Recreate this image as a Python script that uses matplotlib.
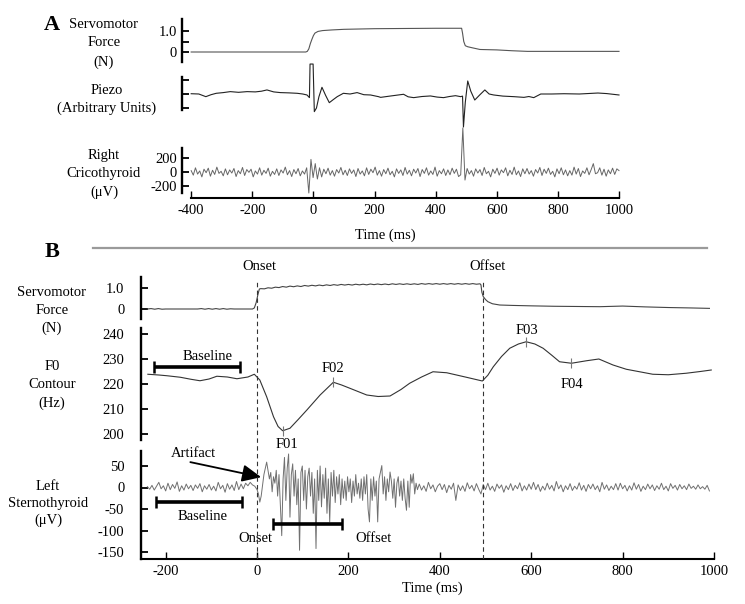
import numpy as np
import matplotlib
matplotlib.use('Agg')
import matplotlib.pyplot as plt
from matplotlib.lines import Line2D

plt.rcParams['font.family'] = ['Liberation Serif', 'DejaVu Serif']
plt.rcParams['font.size'] = 10.5

W, H = 745, 604

# ======================= DATA =======================
A_xticks = [-400, -200, 0, 200, 400, 600, 800, 1000]
B_xticks = [-200, 0, 200, 400, 600, 800, 1000]

# Panel A - servomotor force (N)
A_servo_t = [-400, -25, -20, -15, -10, -5, 0, 5, 15, 30, 60, 100, 200, 300, 400, 485,
             488, 492, 497, 505, 520, 545, 600, 650, 700, 1000]
A_servo_v = [0, 0, 0.03, 0.15, 0.4, 0.6, 0.78, 0.9, 0.98, 1.02, 1.05, 1.08, 1.11, 1.12, 1.13, 1.13,
             0.9, 0.5, 0.3, 0.25, 0.2, 0.12, 0.1, 0.06, 0.03, 0.03]

# Panel A - piezo (arbitrary units)
A_piezo_t = [-400, -375, -352, -335, -318, -295, -272, -245, -217, -190, -170, -152, -130, -108,
             -80, -53, -35, -21, -13, -11, -1, 3, 10, 18, 28, 40, 52, 65, 78, 98, 120, 143, 165,
             187, 213, 220, 250, 295, 310, 328, 355, 383, 405, 426, 445, 465, 482, 488, 491,
             497, 505, 515, 528, 545, 561, 575, 590, 620, 656, 689, 705, 721, 744, 780, 820,
             870, 931, 960, 1000]
A_piezo_v = [0.02, 0.0, -0.19, -0.05, 0.05, 0.1, 0.17, 0.12, 0.17, 0.15, 0.2, 0.29, 0.15, 0.1,
             0.08, 0.05, 0.0, -0.07, -0.26, 2.14, 2.14, -1.26, -1.0, -0.2, 0.48, -0.1, -0.62,
             -0.4, -0.19, 0.05, 0.0, 0.1, -0.05, -0.07, -0.19, -0.24, -0.15, -0.02, -0.2,
             -0.26, -0.18, -0.14, -0.22, -0.26, -0.18, -0.12, -0.19, -0.15, -2.36, -0.6,
             0.93, 0.2, -0.43, -0.05, 0.29, 0.0, -0.07, -0.15, -0.19, -0.24, -0.18, -0.26,
             0.0, 0.0, 0.02, 0.0, 0.07, 0.03, -0.07]

# Panel A - right cricothyroid EMG (uV), samples every 7 ms from -400 ms
A_emg_t0, A_emg_dt = -400, 7
A_emg_v = [20, -45, 60, -30, 15, -70, 40, -10, 55, -60, 25, -35, 70, -20, 10, -55, 45, -40, 30, -15,
           50, -65, 20, -25, 65, -50, 35, -5, 40, -70, 15, -30, 60, -45, 25, -20, 55, -60, 10, -35,
           45, -50, 30, -15, 70, -40, 20, -65, 35, -25, 50, -55, 15, -30, 60, -300, 180, -80, 120, -100,
           60, -70, 40, -25, 55, -45, 20, -60, 35, -15, 65, -40, 25, -50, 45, -20, 30, -65, 50, -30,
           15, -55, 60, -35, 40, -10, 70, -45, 20, -60, 35, -25, 55, -40, 10, -70, 45, -20, 30, -50,
           65, -30, 25, -55, 40, -15, 50, -65, 35, -20, 60, -45, 15, -35, 70, -60, 20, -25, 45, -50,
           30, -40, 55, -20, 40, -65, -40, 630, -115, 50, -30, 20, -60, 45, -15, 35, -50, 65, -25, 10,
           -70, 40, -20, 55, -45, 30, -10, 60, -55, 25, -35, 70, -40, 15, -65, 45, -25, 50, -30, 20,
           -60, 35, -15, 65, -50, 40, -20, 55, -35, 10, -70, 45, -25, 60, -40, 30, -55, 20, -45, 70,
           -30, 50, -65, 15, -20, 60, -40, 35, 120, -25, -10, 60, -45, 40, -60, 30, -25, 55, -35, 45,
           20]

# Panel B - servomotor force (N)
B_servo_pre_t = [-240, -232, -224, -216, -208, -200, -180, -130, -122, -114, -106, -98, -90, -82,
                 -74, -66, -58, -50, -10, -6, -2, 2, 5]
B_servo_pre_v = [0, 0.02, -0.01, 0.02, -0.01, 0, 0, 0, 0.02, -0.01, 0.02, -0.01, 0.02, -0.01,
                 0.02, -0.01, 0.01, 0, 0, 0.05, 0.3, 0.7, 0.95]
B_servo_plat_t0, B_servo_plat_dt = 8, 8
B_servo_plat_v = [0.97, 0.96, 1.01, 0.99, 1.04, 1.02, 1.07, 1.04, 1.09, 1.06, 1.10, 1.07, 1.12, 1.09,
                  1.13, 1.10, 1.14, 1.11, 1.15, 1.12, 1.16, 1.13, 1.17, 1.14, 1.17, 1.14, 1.18, 1.15,
                  1.18, 1.15, 1.19, 1.16, 1.19, 1.16, 1.19, 1.16, 1.20, 1.17, 1.20, 1.17, 1.20, 1.17,
                  1.20, 1.17, 1.21, 1.18, 1.21, 1.18, 1.21, 1.18, 1.21, 1.18, 1.21, 1.18, 1.21, 1.18,
                  1.21, 1.18, 1.21, 1.18, 1.20]
B_servo_post_t = [490, 492, 495, 500, 505, 515, 531, 560, 600, 650, 700, 750, 800, 850, 900, 950, 990]
B_servo_post_v = [1.15, 0.8, 0.59, 0.45, 0.35, 0.25, 0.19, 0.17, 0.15, 0.13, 0.12, 0.11, 0.14,
                  0.1, 0.07, 0.05, 0.03]

# Panel B - F0 contour (Hz)
B_f0_t = [-239, -215, -197, -168, -145, -125, -105, -88, -65, -44, -20, -6, 6, 21, 36, 46, 56, 72,
          90, 109, 138, 167, 185, 203, 240, 265, 291, 315, 334, 360, 385, 415, 458, 493, 505, 517,
          535, 553, 572, 589, 608, 626, 645, 662, 688, 721, 748, 779, 808, 840, 866, 900, 939, 970, 994]
B_f0_v = [223.9, 223.6, 223.3, 222.7, 221.9, 221.3, 222.0, 223.1, 222.8, 222.1, 222.8, 223.9, 221.6,
          214.9, 206.9, 203.0, 201.3, 202.3, 205.8, 209.6, 215.6, 220.7, 219.6, 218.3, 215.6, 215.0,
          215.2, 217.8, 220.3, 222.8, 224.9, 224.5, 222.7, 221.2, 223.5, 226.9, 231.0, 234.3, 236.0,
          236.9, 236.0, 234.3, 231.5, 228.9, 228.3, 229.3, 230.0, 227.6, 225.9, 224.8, 223.9, 223.7,
          224.3, 225.0, 225.6]
B_f0_marks = ['F01', 'F02', 'F03', 'F04']
B_f0_mark_t = [56, 167, 589, 688]
B_f0_mark_v = [201.3, 220.7, 236.9, 228.3]

# Panel B - left sternothyroid EMG (uV)
B_emg_pre_t0, B_emg_pre_dt = -240, 5
B_emg_pre_v = [2, -4, 5, -6, 3, 12, -3, 4, -8, 10, -5, 7, -2, 13, -9, 4, -6, 8, -3, 5,
               -7, 6, -2, 9, -10, 4, -4, 7, -6, 3, -8, 12, -3, 5, -11, 9, -4, 6, -7, 14,
               -5, 8, -3, 10, 4, 12, 6, 3]
B_emg_burst_t0, B_emg_burst_dt = 0, 3
B_emg_burst_v = [-5, -15, -34, -20, 5, 30, 45, 59, 40, 20, 35, -10, 25, 10, 40, -20, 30, -40, -112, 20,
                 70, -30, 45, 78, -69, 30, 55, -20, 40, -40, 20, -146, 35, 50, -30, 40, -50, 25, 45, -20,
                 35, -60, 20, -142, 40, -30, 50, -45, 30, -25, 45, -60, 20, -80, 35, -20, 40, -35, 25, -15,
                 30, -40, 20, -25, 15, -30, 25, -10, 20, -35, 15, -20, 30, -15, 10, -25, 20, -30, 25, -15,
                 30, -50, -80, 20, -30, 25, -20, 15, -80, 20, 35, 51, -15, 25, -30, 20, -10, 36, 15, -25,
                 20, -46, 10, 25, -20, 15, -30, 20, -25, -53, 15, -46, 30, 10, 32, -15, 10, -5]
B_emg_post_t0, B_emg_post_dt = 355, 5
B_emg_post_v = [8, -6, 4, -9, 12, -3, 6, -10, 3, 9, -5, 7, -12, 5, -4, 10, -30, 6, -7, 4,
                -9, 11, -3, 5, -8, 9, -4, -15, 7, -5, 10, -6, 3, -9, 8, -2, 6, -11, 4, -5,
                9, -7, 5, -3, 11, -8, 4, -6, 8, -4, 12, -5, 7, -9, 3, -6, 10, -4, 5, -8,
                14, -3, 6, -10, 4, -5, 9, -7, 3, -4, 11, -6, 5, -9, 7, -3, 8, -5, 4, -10,
                12, -4, 6, -7, 3, -5, 9, -6, 10, -3, 5, -8, 4, -6, 11, -4, 7, -9, 3, -5,
                8, -3, 6, -7, 4, -4, 10, -5, 3, -8, 9, -2, 5, -6, 7, -3, 4, -5, 8, -2,
                3, -4, 6, -3, 2, -4, 5, -8]

B_events = [0, 495]            # onset / offset (ms)
B_f0_baseline = [-225, -37]    # baseline window (ms)
B_f0_baseline_level = 226.8
B_emg_baseline = [-221, -33]
B_emg_baseline_level = -33
B_emg_window = [35, 186]
B_emg_window_level = -86

# ======================= FIGURE =======================
fig = plt.figure(figsize=(W / 100, H / 100), dpi=100)


def add_ax(x0, x1, ytop, ybot):
    return fig.add_axes([x0 / W, 1 - ybot / H, (x1 - x0) / W, (ybot - ytop) / H])


def ylim_px(ax, ytop, ybot, v1, p1, v2, p2):
    s = (v1 - v2) / (p2 - p1)
    ax.set_ylim(v2 - (ybot - p2) * s, v1 + (p1 - ytop) * s)
    return s


def style(ax, xlim, show_x=False, ypad=3.5):
    ax.set_xlim(*xlim)
    ax.patch.set_alpha(0)
    for s in ['top', 'right']:
        ax.spines[s].set_visible(False)
    ax.spines['left'].set_linewidth(1.7)
    ax.spines['bottom'].set_linewidth(1.5)
    ax.tick_params(axis='y', direction='in', length=5, width=1.3, labelsize=10.5, pad=ypad)
    ax.tick_params(axis='x', direction='in', length=5, width=1.0, labelsize=10.5, pad=4)
    if not show_x:
        ax.spines['bottom'].set_visible(False)
        ax.set_xticks([])


def lab(x, y, s, **kw):
    fig.text(x / W, 1 - y / H, s, ha='center', va='center', fontsize=10.5, **kw)


trace = dict(lw=0.8, clip_on=False)

# ---------------- Panel A ----------------
A_xlim = (-430, 1000)
aS = add_ax(182, 619, 19, 62)
style(aS, A_xlim)
ylim_px(aS, 19, 62, 1.0, 31, 0.0, 52)
aS.plot(A_servo_t, A_servo_v, color='#555555', **trace)
aS.set_yticks([0, 0.5, 1.0])
aS.set_yticklabels(['0', '', '1.0'])

aP = add_ax(182, 619, 77, 110)
style(aP, A_xlim)
ylim_px(aP, 77, 110, 1.0, 80, -1.0, 108)
aP.plot(A_piezo_t, A_piezo_v, color='#222222', **trace)
aP.set_yticks([-1, 0, 1])
aP.set_yticklabels([])

aC = add_ax(182, 619, 148, 198)
style(aC, A_xlim, show_x=True)
sC = ylim_px(aC, 148, 198, 200, 158, -200, 186)
A_emg_t = A_emg_t0 + A_emg_dt * np.arange(len(A_emg_v))
aC.plot(A_emg_t, A_emg_v, color='#666666', lw=0.7, clip_on=False)
aC.set_yticks([-200, 0, 200])
aC.set_yticklabels(['-200', '0', '200'])
aC.spines['left'].set_bounds(-200 - (193 - 186) * sC, aC.get_ylim()[1])
aC.spines['bottom'].set_bounds(A_xticks[0], A_xticks[-1])
aC.set_xticks(A_xticks)
aC.set_xticklabels([str(v) for v in A_xticks])

fig.text(52 / W, 1 - 25 / H, 'A', ha='center', va='center', fontsize=16, fontweight='bold')
lab(104, 25, 'Servomotor')
lab(104, 43, 'Force')
lab(104, 62, '(N)')
lab(107, 90, 'Piezo')
lab(107, 108, '(Arbitrary Units)')
lab(104, 155, 'Right')
lab(104, 173, 'Cricothyroid')
lab(104, 192, '(\u03bcV)')
lab(385, 235, 'Time (ms)')

fig.add_artist(Line2D([93 / W, 707 / W], [1 - 248 / H, 1 - 248 / H], transform=fig.transFigure,
                      color='#9a9a9a', lw=1.6))

# ---------------- Panel B ----------------
B_xlim = (-254, 1000)
bS = add_ax(141, 714, 277, 319)
style(bS, B_xlim, ypad=12)
ylim_px(bS, 277, 319, 1.0, 288, 0.0, 309)
B_servo_plat_t = B_servo_plat_t0 + B_servo_plat_dt * np.arange(len(B_servo_plat_v))
bS_t = list(B_servo_pre_t) + list(B_servo_plat_t) + list(B_servo_post_t)
bS_v = list(B_servo_pre_v) + list(B_servo_plat_v) + list(B_servo_post_v)
bS.plot(bS_t, bS_v, color='#444444', **trace)
bS.set_yticks([0, 1.0])
bS.set_yticklabels(['0', '1.0'])
bS.text(6, bS.get_ylim()[1] + 10 * (1.0 / 21), 'Onset', ha='center', va='center', fontsize=10.5)
bS.text(504, bS.get_ylim()[1] + 10 * (1.0 / 21), 'Offset', ha='center', va='center', fontsize=10.5)

bF = add_ax(141, 714, 328, 440)
style(bF, B_xlim, ypad=12)
ylim_px(bF, 328, 440, 240, 334, 200, 434)
bF.plot(B_f0_t, B_f0_v, color='#333333', **trace)
bF.plot(B_f0_mark_t, B_f0_mark_v, ls='none', marker='|', ms=7, mew=0.8, color='#777777')
bF.set_yticks([200, 210, 220, 230, 240])
bF.set_yticklabels(['200', '210', '220', '230', '240'])
bF.plot(B_f0_baseline, [B_f0_baseline_level] * 2, color='black', lw=2.6, marker='|', ms=8, mew=1.8,
        solid_capstyle='butt')
bF.text(np.mean(B_f0_baseline) + 22, 231.0, 'Baseline', ha='center', va='center', fontsize=10.5)
mark_lbl_pos = [(66, 195.6), (166, 226.0), (590, 241.3), (688, 219.6)]
for name, (tx, ty) in zip(B_f0_marks, mark_lbl_pos):
    bF.text(tx, ty, name, ha='center', va='center', fontsize=10.5)

bE = add_ax(141, 714, 451, 559)
style(bE, B_xlim, show_x=True, ypad=12)
ylim_px(bE, 451, 559, 50, 466, -150, 552)
B_emg_t = list(B_emg_pre_t0 + B_emg_pre_dt * np.arange(len(B_emg_pre_v))) + \
          list(B_emg_burst_t0 + B_emg_burst_dt * np.arange(len(B_emg_burst_v))) + \
          list(B_emg_post_t0 + B_emg_post_dt * np.arange(len(B_emg_post_v)))
B_emg_v = list(B_emg_pre_v) + list(B_emg_burst_v) + list(B_emg_post_v)
bE.plot(B_emg_t, B_emg_v, color='#707070', lw=0.7, clip_on=False)
bE.set_yticks([-150, -100, -50, 0, 50])
bE.set_yticklabels(['-150', '-100', '-50', '0', '50'])
bE.set_xticks(B_xticks)
bE.set_xticklabels([str(v) for v in B_xticks])
bE.plot(B_emg_baseline, [B_emg_baseline_level] * 2, color='black', lw=2.6, marker='|', ms=8, mew=1.8,
        solid_capstyle='butt')
bE.plot(B_emg_window, [B_emg_window_level] * 2, color='black', lw=2.6, marker='|', ms=8, mew=1.8,
        solid_capstyle='butt')
bE.text(-120, -67, 'Baseline', ha='center', va='center', fontsize=10.5)
bE.text(-4, -119, 'Onset', ha='center', va='center', fontsize=10.5)
bE.text(255, -119, 'Offset', ha='center', va='center', fontsize=10.5)
bE.text(-140, 80, 'Artifact', ha='center', va='center', fontsize=10.5)
bE.annotate('', xy=(9, 24), xytext=(-146, 59),
            arrowprops=dict(arrowstyle='-|>,head_length=1.1,head_width=0.5', lw=1.3, color='black',
                            shrinkA=0, shrinkB=0))

ov = add_ax(141, 714, 282, 559)
ov.set_xlim(*B_xlim)
ov.set_ylim(0, 1)
ov.axis('off')
for ev in B_events:
    ov.axvline(ev, color='#333333', lw=0.8, ls=(0, (4, 3)))

fig.text(52 / W, 1 - 252 / H, 'B', ha='center', va='center', fontsize=16, fontweight='bold')
lab(52, 292, 'Servomotor')
lab(52, 310, 'Force')
lab(52, 328, '(N)')
lab(52, 367, 'F0')
lab(52, 385, 'Contour')
lab(52, 403, '(Hz)')
lab(48, 487, 'Left')
lab(48, 503, 'Sternothyroid')
lab(48, 520, '(\u03bcV)')
lab(432, 588, 'Time (ms)')

fig.savefig('out.png', dpi=100)
